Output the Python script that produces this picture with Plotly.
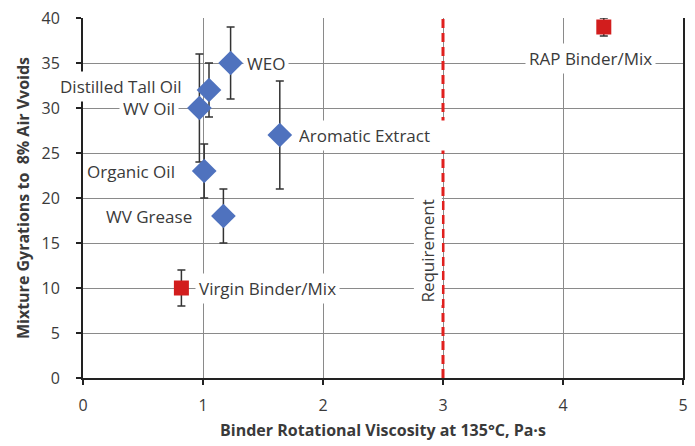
import plotly.graph_objects as go

# Modifier blends: binder viscosity vs gyrations to 8% air voids
mod_names = ["WEO", "Distilled Tall Oil", "WV Oil", "Organic Oil", "Aromatic Extract", "WV Grease"]
mod_visc = [1.23, 1.05, 0.97, 1.01, 1.64, 1.17]
mod_gyr = [35, 32, 30, 23, 27, 18]
mod_err = [4, 3, 6, 3, 6, 3]

# Reference binders/mixes
ref_names = ["Virgin Binder/Mix", "RAP Binder/Mix"]
ref_visc = [0.82, 4.34]
ref_gyr = [10, 39]
ref_err = [2, 1]

requirement_visc = 3.0

x_ticks = [0, 1, 2, 3, 4, 5]
y_ticks = [0, 5, 10, 15, 20, 25, 30, 35, 40]

FONT = "Open Sans"
TXT = "#3a3a3a"

fig = go.Figure()

# Viscosity requirement line
fig.add_trace(go.Scatter(
    x=[requirement_visc, requirement_visc], y=[0, 40], mode="lines",
    line=dict(color="#e0201e", width=3, dash="9px,5px"),
    hoverinfo="skip", showlegend=False,
))

fig.add_trace(go.Scatter(
    x=mod_visc, y=mod_gyr, mode="markers",
    marker=dict(symbol="diamond", size=19, color="#4f72be"),
    error_y=dict(type="data", array=mod_err, color="#333333", thickness=1.5, width=4),
    showlegend=False,
))

fig.add_trace(go.Scatter(
    x=ref_visc, y=ref_gyr, mode="markers",
    marker=dict(symbol="square", size=15, color="#d21d1d"),
    error_y=dict(type="data", array=ref_err, color="#333333", thickness=1.5, width=4),
    showlegend=False,
))

# Point labels (position in data units, anchor side, pixel shift, box width)
label_pos = {
    "WEO": (1.23, 35, "left", 12, None),
    "Distilled Tall Oil": (0.86, 32.4, "right", 0, None),
    "WV Oil": (0.80, 30, "right", 0, None),
    "Organic Oil": (0.80, 23, "right", 0, None),
    "Aromatic Extract": (1.64, 27, "left", 15, 146),
    "WV Grease": (0.94, 17.9, "right", 0, None),
    "Virgin Binder/Mix": (0.82, 10, "left", 14, None),
    "RAP Binder/Mix": (4.23, 35.5, "center", 0, None),
}
for name, (lx, ly, side, shift, box_w) in label_pos.items():
    fig.add_annotation(
        x=lx, y=ly, text=name, showarrow=False, xanchor=side, yanchor="middle",
        xshift=shift, bgcolor="white", borderpad=3, width=box_w, align="left",
        font=dict(family=FONT, size=17, color=TXT),
    )

fig.add_annotation(
    x=requirement_visc, y=14.1, text="Requirement", showarrow=False, textangle=-90,
    xanchor="right", yanchor="middle", xshift=-1, bgcolor="white", borderpad=2,
    font=dict(family=FONT, size=17, color=TXT),
)

fig.update_layout(
    width=695, height=446,
    margin=dict(l=83, r=7, t=16, b=68),
    paper_bgcolor="white", plot_bgcolor="white",
    font=dict(family=FONT, color=TXT),
    xaxis=dict(
        range=[0, 5], tickvals=x_ticks, showgrid=True, gridcolor="#8a8a8a", gridwidth=1,
        showline=True, linecolor="#222222", linewidth=2, zeroline=False,
        ticks="outside", ticklen=5, tickcolor="#222222", tickwidth=1.5,
        ticklabelstandoff=7,
        tickfont=dict(family=FONT, size=16, color=TXT),
        title=dict(text="<b>Binder Rotational Viscosity at 135°C, Pa·s</b>",
                   font=dict(family=FONT, size=16, color=TXT), standoff=10),
    ),
    yaxis=dict(
        range=[0, 40], tickvals=y_ticks, showgrid=True, gridcolor="#8a8a8a", gridwidth=1,
        showline=True, linecolor="#222222", linewidth=2, mirror=True, zeroline=False,
        ticks="outside", ticklen=5, tickcolor="#222222", tickwidth=1.5,
        ticklabelstandoff=13,
        tickfont=dict(family=FONT, size=16, color=TXT),
        title=dict(text="<b>Mixture Gyrations to  8% Air Vvoids</b>",
                   font=dict(family=FONT, size=16, color=TXT), standoff=8),
    ),
)

fig.write_html("out.html")
